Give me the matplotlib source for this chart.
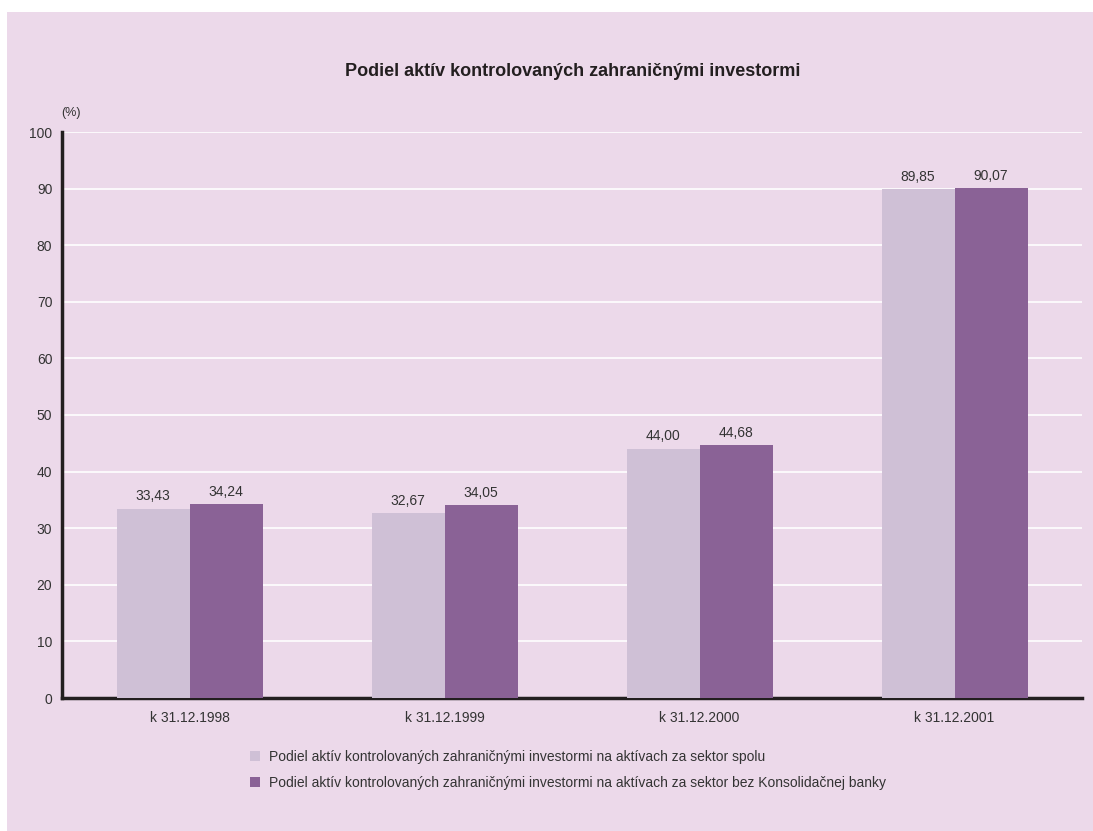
import numpy as np
import matplotlib.pyplot as plt
from matplotlib.patches import Rectangle

plt.rcParams['font.family'] = ['Liberation Sans', 'DejaVu Sans']

categories = ["k 31.12.1998", "k 31.12.1999", "k 31.12.2000", "k 31.12.2001"]
spolu = [33.43, 32.67, 44.00, 89.85]
bez_kb = [34.24, 34.05, 44.68, 90.07]
labels = [
    "Podiel aktív kontrolovaných zahraničnými investormi na aktívach za sektor spolu",
    "Podiel aktív kontrolovaných zahraničnými investormi na aktívach za sektor bez Konsolidačnej banky",
]
yticks = list(range(0, 101, 10))

bg = "#ecd9ea"
c_light = "#cfc0d6"
c_dark = "#8a6296"
txt = "#333333"

fig = plt.figure(figsize=(10.93, 8.31), dpi=100, facecolor="white")
# pink panel, small white margin on the left and top
fig.patches.append(Rectangle((7 / 1093, 0), 1, 1 - 12 / 831, transform=fig.transFigure,
                             facecolor=bg, edgecolor="none", zorder=-10))

ax = fig.add_axes([62 / 1093, 1 - 698 / 831, 1020 / 1093, 566 / 831])
ax.patch.set_alpha(0)

x = np.arange(len(categories))
w = 73 / 255
b1 = ax.bar(x - w / 2, spolu, w, color=c_light, label=labels[0], zorder=3)
b2 = ax.bar(x + w / 2, bez_kb, w, color=c_dark, label=labels[1], zorder=3)

for bars, vals in ((b1, spolu), (b2, bez_kb)):
    for r, v in zip(bars, vals):
        ax.annotate(f"{v:.2f}".replace(".", ","), (r.get_x() + r.get_width() / 2, v),
                    xytext=(0, 4), textcoords="offset points", ha="center", va="bottom",
                    fontsize=10, color=txt)

ax.set_xlim(-0.5, 3.5)
ax.set_ylim(0, 100)
ax.set_yticks(yticks)
ax.set_xticks(x)
ax.set_xticklabels(categories)
ax.tick_params(axis="both", length=0, labelsize=10, labelcolor=txt)
ax.tick_params(axis="y", pad=7)
ax.tick_params(axis="x", pad=9)
ax.yaxis.grid(True, color="white", linewidth=1.2, zorder=0)
ax.set_axisbelow(True)
for s in ("top", "right"):
    ax.spines[s].set_visible(False)
for s in ("left", "bottom"):
    ax.spines[s].set_linewidth(2.5)
    ax.spines[s].set_color("#231f20")

fig.text(71 / 1093, 1 - 113 / 831, "(%)", fontsize=9, color=txt, ha="center", va="center")
fig.text(573 / 1093, 1 - 72 / 831, "Podiel aktív kontrolovaných zahraničnými investormi",
         ha="center", va="center", fontsize=13, fontweight="bold", color="#231f20")

fig.legend(handles=[b1, b2], labels=labels, loc="upper left",
           bbox_to_anchor=(250 / 1093, 1 - 750 / 831), frameon=False, fontsize=10,
           borderpad=0, borderaxespad=0, handlelength=0.72, handleheight=0.72,
           handletextpad=0.65, labelspacing=0.87, labelcolor=txt)

fig.savefig("out.png", dpi=100, facecolor="white")
